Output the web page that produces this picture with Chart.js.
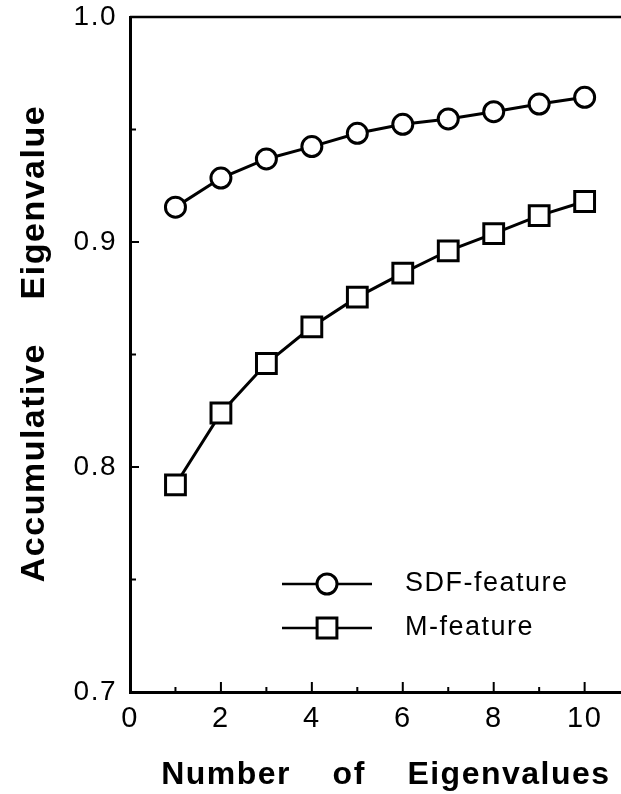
<!DOCTYPE html>
<html lang="en">
<head>
<meta charset="UTF-8">
<title>Accumulative Eigenvalue</title>
<script src="https://cdn.jsdelivr.net/npm/chart.js"></script>
<style>
  html, body { margin: 0; padding: 0; background: #fff; overflow: hidden; }
  /* a little wider than the window so the plot runs to the right edge,
     like the cropped original (the last tick label reserves ~17px) */
  #wrap { width: 638px; height: 794px; }
  #chart { display: block; }
</style>
</head>
<body>
<div id="wrap"><canvas id="chart"></canvas></div>
<script>
// data
var numEigen = [1, 2, 3, 4, 5, 6, 7, 8, 9, 10];
var sdfFeature = [0.9155, 0.9284, 0.9369, 0.9424, 0.9483, 0.9523, 0.9547, 0.9579, 0.9613, 0.9643];
var mFeature = [0.7921, 0.8240, 0.8460, 0.8623, 0.8755, 0.8862, 0.8961, 0.9037, 0.9117, 0.9180];
var seriesNames = ['SDF-feature', 'M-feature'];
var xTicks = [0, 2, 4, 6, 8, 10];
var xMinorTicks = [1, 3, 5, 7, 9];
var yTicks = [0.7, 0.8, 0.9, 1.0];
var yMinorTicks = [0.75, 0.85, 0.95];

var FONT = '"Liberation Sans", Arial, Helvetica, sans-serif';

function toPoints(xs, ys) {
    return xs.map(function (x, i) { return { x: x, y: ys[i] }; });
}

// wider letter spacing like the old typeset figure, top frame line,
// inward tick marks and the legend box inside the plot
var decor = {
    id: 'decor',
    beforeDraw: function (chart) {
        chart.ctx.letterSpacing = '1.5px';
    },
    afterDraw: function (chart) {
        var ctx = chart.ctx, a = chart.chartArea;
        var xs = chart.scales.x, ys = chart.scales.y;
        ctx.save();
        ctx.strokeStyle = '#000';
        ctx.lineWidth = 2.5;
        ctx.beginPath();
        ctx.moveTo(a.left, a.top);
        ctx.lineTo(a.right, a.top);
        ctx.stroke();

        ctx.lineWidth = 2;
        ctx.beginPath();
        xTicks.forEach(function (v) {
            var px = xs.getPixelForValue(v);
            ctx.moveTo(px, a.bottom); ctx.lineTo(px, a.bottom - 10);
        });
        xMinorTicks.forEach(function (v) {
            var px = xs.getPixelForValue(v);
            ctx.moveTo(px, a.bottom); ctx.lineTo(px, a.bottom - 5);
        });
        yTicks.forEach(function (v) {
            var py = ys.getPixelForValue(v);
            ctx.moveTo(a.left, py); ctx.lineTo(a.left + 9, py);
        });
        yMinorTicks.forEach(function (v) {
            var py = ys.getPixelForValue(v);
            ctx.moveTo(a.left, py); ctx.lineTo(a.left + 6, py);
        });
        ctx.stroke();

        // legend
        var lx = a.left + 152, ly = a.top + 567, gap = 44;
        chart.data.datasets.forEach(function (ds, i) {
            var y = ly + i * gap;
            ctx.strokeStyle = '#000';
            ctx.lineWidth = 2.5;
            ctx.beginPath();
            ctx.moveTo(lx, y); ctx.lineTo(lx + 90, y);
            ctx.stroke();
            ctx.lineWidth = 3;
            ctx.fillStyle = '#fff';
            Chart.helpers.drawPoint(ctx, {
                pointStyle: ds.pointStyle,
                radius: ds.pointRadius,
                borderWidth: 3
            }, lx + 45, y);
            ctx.fillStyle = '#000';
            ctx.font = '27px ' + FONT;
            ctx.textBaseline = 'middle';
            ctx.textAlign = 'left';
            ctx.fillText(ds.label, lx + 123, y);
        });
        ctx.restore();
    }
};

new Chart(document.getElementById('chart'), {
    type: 'line',
    data: {
        datasets: [{
            label: seriesNames[0],
            data: toPoints(numEigen, sdfFeature),
            borderColor: '#000',
            borderWidth: 3,
            pointStyle: 'circle',
            pointRadius: 10,
            pointBorderWidth: 3,
            pointBackgroundColor: '#fff',
            pointBorderColor: '#000',
            tension: 0
        }, {
            label: seriesNames[1],
            data: toPoints(numEigen, mFeature),
            borderColor: '#000',
            borderWidth: 3,
            pointStyle: 'rect',
            pointRadius: 14,
            pointBorderWidth: 3,
            pointBackgroundColor: '#fff',
            pointBorderColor: '#000',
            tension: 0
        }]
    },
    options: {
        responsive: true,
        maintainAspectRatio: false,
        animation: false,
        events: [],
        layout: { padding: { top: 16, right: 0, bottom: 0, left: 0 } },
        plugins: {
            legend: { display: false },
            tooltip: { enabled: false }
        },
        scales: {
            x: {
                type: 'linear',
                min: 0,
                max: 10.8,
                grid: { display: false, drawTicks: false },
                border: { display: true, color: '#000', width: 3 },
                afterBuildTicks: function (scale) {
                    scale.ticks = xTicks.map(function (v) { return { value: v }; });
                },
                afterFit: function (scale) { scale.height = 102; },
                ticks: {
                    color: '#000',
                    font: { family: FONT, size: 29 },
                    padding: 10,
                    maxRotation: 0
                },
                title: {
                    display: true,
                    text: '  Number    of    Eigenvalues',
                    color: '#000',
                    font: { family: FONT, size: 32, weight: 'bold' },
                    padding: { top: 0, bottom: 0 }
                }
            },
            y: {
                min: 0.7,
                max: 1.0,
                grid: { display: false, drawTicks: false },
                border: { display: true, color: '#000', width: 3 },
                afterBuildTicks: function (scale) {
                    scale.ticks = yTicks.map(function (v) { return { value: v }; });
                },
                afterFit: function (scale) {
                    scale.width = 130;
                    scale.paddingTop = 0;
                },
                ticks: {
                    color: '#000',
                    font: { family: FONT, size: 28 },
                    padding: 13,
                    callback: function (v) { return v.toFixed(1); }
                },
                title: {
                    display: true,
                    text: '  Accumulative    Eigenvalue',
                    color: '#000',
                    font: { family: FONT, size: 34, weight: 'bold' },
                    padding: { top: 14, bottom: 0 }
                }
            }
        }
    },
    plugins: [decor]
});
</script>
</body>
</html>
